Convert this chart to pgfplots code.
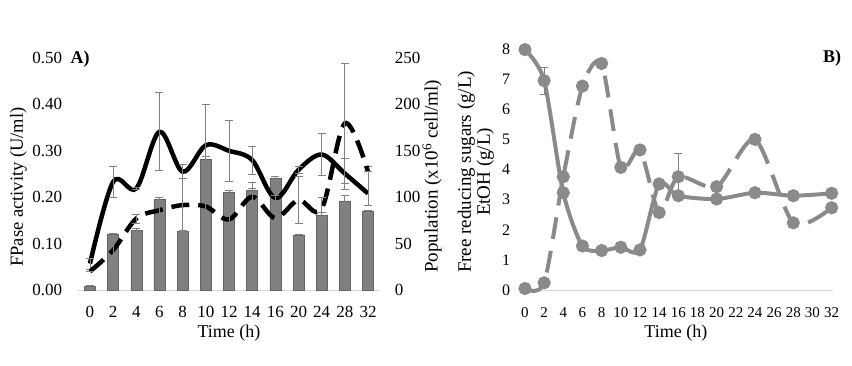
\documentclass[border=0pt]{standalone}
\usepackage{fontspec}
\setmainfont{Liberation Serif}
\usepackage{pgfplots}
\pgfplotsset{compat=1.18}
\definecolor{barfill}{RGB}{128,128,128}
\definecolor{bardraw}{RGB}{100,100,100}
\definecolor{errgray}{RGB}{130,130,130}
\definecolor{axgray}{RGB}{215,215,215}
\definecolor{lgray}{RGB}{138,138,138}
\newcommand{\fs}[1]{\fontsize{#1}{#1}\selectfont}
\pgfplotsset{
  common/.style={
    scale only axis,
    clip=false,
    major tick length=0pt,
    /pgf/number format/assume math mode=true,
    scaled y ticks=false,
  },
}
\begin{document}
\begin{tikzpicture}
\path[use as bounding box] (0pt,0pt) rectangle (852pt,-365pt);

% ---------- Panel A: left axis ----------
\begin{axis}[common,
  at={(78.4pt,-290pt)}, anchor=south west,
  width=301.2pt, height=232pt,
  xmin=-0.5, xmax=12.5, ymin=0, ymax=0.5,
  axis x line=bottom, axis y line=left,
  x axis line style={draw=axgray, line width=1pt, -},
  y axis line style={draw=none},
  xtick={0,...,12},
  xticklabels={0,2,4,6,8,10,12,14,16,20,24,28,32},
  ytick={0,0.1,0.2,0.3,0.4,0.5},
  yticklabel style={font=\fs{17}, inner sep=0pt, anchor=east, xshift=-16pt,
    /pgf/number format/fixed, /pgf/number format/fixed zerofill,
    /pgf/number format/precision=2},
  xticklabel style={font=\fs{17}, inner sep=0pt, anchor=north, yshift=-16pt},
  xlabel={Time (h)},
  xlabel style={font=\fs{18}, at={(axis description cs:0.5,-0.188)}, anchor=center},
  ylabel={FPase activity (U/ml)},
  ylabel style={font=\fs{18.5}, at={(axis description cs:-0.199,0.444)}, anchor=center},
]
\addplot[ybar, bar width=11pt, fill=barfill, draw=bardraw, line width=0.6pt,
  error bars/.cd, y dir=both, y explicit,
  error bar style={draw=errgray, line width=0.7pt, solid},
  error mark options={draw=errgray, line width=0.7pt, mark size=4pt, rotate=90}]
coordinates {
 (0,0.007) +- (0,0.002)
 (1,0.119) +- (0,0.004)
 (2,0.128) +- (0,0.004)
 (3,0.195) +- (0,0.004)
 (4,0.126) +- (0,0.003)
 (5,0.282) +- (0,0.005)
 (6,0.211) +- (0,0.004)
 (7,0.215) +- (0,0.004)
 (8,0.241) +- (0,0.004)
 (9,0.117) +- (0,0.004)
 (10,0.160) +- (0,0.008)
 (11,0.192) +- (0,0.012)
 (12,0.169) +- (0,0.003)
};
\addplot[black, line width=4.5pt, smooth, tension=0.55, no markers,
  error bars/.cd, y dir=both, y explicit,
  error bar style={draw=errgray, line width=0.7pt, solid},
  error mark options={draw=errgray, line width=0.7pt, mark size=4pt, rotate=90}]
coordinates {
 (0,0.057) +- (0,0.012)
 (1,0.233) +- (0,0.034)
 (2,0.219) +- (0,0.003)
 (3,0.341) +- (0,0.084)
 (4,0.255) +- (0,0.015)
 (5,0.312) +- (0,0.088)
 (6,0.300) +- (0,0.065)
 (7,0.280) +- (0,0.030)
 (8,0.198) +- (0,0.005)
 (9,0.259) +- (0,0.008)
 (10,0.292) +- (0,0.045)
 (11,0.251) +- (0,0.033)
 (12,0.208) += (0,0.059) -= (0,0.025)
};
\end{axis}

% ---------- Panel A: right axis (population) ----------
\begin{axis}[common,
  at={(78.4pt,-290pt)}, anchor=south west,
  width=301.2pt, height=232pt,
  xmin=-0.5, xmax=12.5, ymin=0, ymax=250,
  axis x line=none, axis y line*=right,
  y axis line style={draw=none},
  ytick={0,50,100,150,200,250},
  yticklabel style={font=\fs{17}, inner sep=0pt, anchor=west, xshift=15pt},
  ylabel={Population (x10\textsuperscript{6} cell/ml)},
  ylabel style={font=\fs{19}, at={(axis description cs:1.174,0.49)}, anchor=center},
]
\addplot[black, line width=4.5pt, dash pattern=on 18pt off 9pt, smooth, tension=0.55, no markers,
  error bars/.cd, y dir=both, y explicit,
  error bar style={draw=errgray, line width=0.7pt, solid},
  error mark options={draw=errgray, line width=0.7pt, mark size=4pt, rotate=90, solid}]
coordinates {
 (0,20) +- (0,0)
 (1,43) +- (0,18.5)
 (2,77) +- (0,5)
 (3,86) +- (0,10)
 (4,91.5) +- (0,28.5)
 (5,90) +- (0,10.5)
 (6,76) +- (0,10)
 (7,100.5) +- (0,16)
 (8,77.5) +- (0,10)
 (9,97) +- (0,25)
 (10,87.5) +- (0,12.5)
 (11,179.5) +- (0,65)
 (12,127.5) +- (0,0)
};
\end{axis}

% ---------- Panel B ----------
\begin{axis}[common,
  at={(519.2pt,-290pt)}, anchor=south west,
  width=313.4pt, height=241pt,
  xmin=-0.6, xmax=32.1, ymin=0, ymax=8,
  axis x line=bottom, axis y line=left,
  x axis line style={draw=axgray, line width=1pt, -},
  y axis line style={draw=none},
  xtick={0,2,...,32},
  ytick={0,1,...,8},
  yticklabel style={font=\fs{16}, inner sep=0pt, anchor=east, xshift=-9pt},
  xticklabel style={font=\fs{15}, inner sep=0pt, anchor=north, yshift=-17pt},
  xlabel={Time (h)},
  xlabel style={font=\fs{18}, at={(axis description cs:0.5,-0.178)}, anchor=center},
  ylabel={Free reducing sugars (g/L)\\EtOH (g/L)},
  ylabel style={font=\fs{19}, align=center, at={(axis description cs:-0.138,0.49)}, anchor=center},
]
\addplot[lgray, line width=4pt, smooth, tension=0.45, mark=*, mark size=4.5pt,
  mark options={solid, fill=lgray, draw=lgray},
  error bars/.cd, y dir=both, y explicit,
  error bar style={draw=errgray, line width=0.7pt, solid},
  error mark options={draw=errgray, line width=0.7pt, mark size=4pt, rotate=90}]
coordinates {
 (0,7.98) +- (0,0)
 (2,6.95) +- (0,0.45)
 (4,3.23) +- (0,0.1)
 (6,1.46) +- (0,0)
 (8,1.31) +- (0,0)
 (10,1.42) +- (0,0)
 (12,1.33) +- (0,0)
 (14,3.52) +- (0,0)
 (16,3.13) +- (0,0)
 (20,3.02) +- (0,0)
 (24,3.23) +- (0,0)
 (28,3.13) +- (0,0)
 (32,3.21) +- (0,0)
};
\addplot[lgray, line width=4pt, dash pattern=on 22pt off 12pt, smooth, tension=0.45, mark=*, mark size=4.5pt,
  mark options={solid, fill=lgray, draw=lgray},
  error bars/.cd, y dir=both, y explicit,
  error bar style={draw=errgray, line width=0.7pt, solid},
  error mark options={draw=errgray, line width=0.7pt, mark size=4pt, rotate=90, solid}]
coordinates {
 (0,0.05) +- (0,0)
 (2,0.24) +- (0,0)
 (4,3.76) +- (0,0)
 (6,6.77) +- (0,0)
 (8,7.52) +- (0,0)
 (10,4.07) +- (0,0)
 (12,4.65) +- (0,0)
 (14,2.57) +- (0,0)
 (16,3.76) +- (0,0.79)
 (20,3.43) +- (0,0)
 (24,5.00) +- (0,0)
 (28,2.23) +- (0,0)
 (32,2.73) +- (0,0)
};
\end{axis}

\node[font=\bfseries\fs{18}] at (80pt,-59pt) {A)};
\node[font=\bfseries\fs{18}] at (832pt,-58pt) {B)};
\end{tikzpicture}
\end{document}
